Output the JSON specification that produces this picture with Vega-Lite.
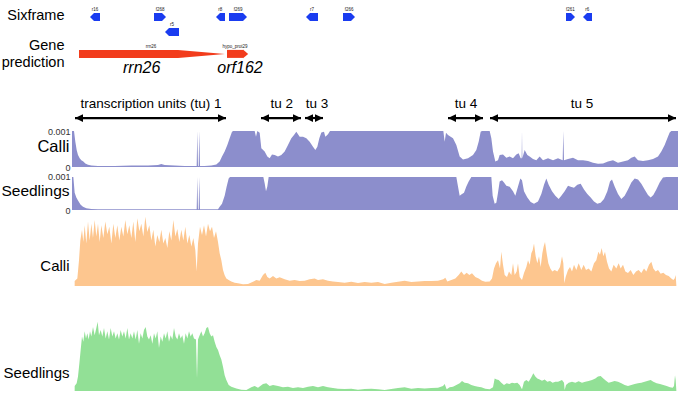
{
"$schema": "https://vega.github.io/schema/vega-lite/v6.json",
"background": "white",
"padding": {"left": 0, "top": 2, "right": 5, "bottom": 5},
"spacing": 0,
"bounds": "flush",
"config": {
  "view": {"stroke": null},
  "font": "Liberation Sans",
  "axis": {"domain": false, "ticks": false, "tickSize": 0, "grid": false, "labels": false, "titleAngle": 0, "titleAlign": "right", "titleBaseline": "middle", "titleFontWeight": "normal", "titleColor": "black", "titleFontSize": 14.5, "titlePadding": 0}
},
"datasets": {
  "six": [
    {"name": "r16", "frame": 1, "start": 288, "end": 306, "strand": "-", "mid": 291},
    {"name": "f268", "frame": 1, "start": 468, "end": 492, "strand": "+", "mid": 486},
    {"name": "r5", "frame": 2, "start": 513, "end": 543, "strand": "-", "mid": 522},
    {"name": "r8", "frame": 1, "start": 666, "end": 681, "strand": "-", "mid": 667},
    {"name": "f269", "frame": 1, "start": 693, "end": 735, "strand": "+", "mid": 720},
    {"name": "r7", "frame": 1, "start": 936, "end": 960, "strand": "-", "mid": 942},
    {"name": "f266", "frame": 1, "start": 1035, "end": 1059, "strand": "+", "mid": 1053},
    {"name": "f261", "frame": 1, "start": 1704, "end": 1719, "strand": "+", "mid": 1717},
    {"name": "r6", "frame": 1, "start": 1767, "end": 1782, "strand": "-", "mid": 1768}
  ],
  "genes": [
    {"name": "rrn26", "tag": "rrn26", "start": 243, "end": 540, "mid": 459},
    {"name": "orf162", "tag": "hypo_prot29", "start": 687, "end": 735, "mid": 711}
  ],
  "geneLabels": [
    {"label": "rrn26", "p": 431},
    {"label": "orf162", "p": 726}
  ],
  "tu": [
    {"label": "transcription units (tu) 1", "start": 231, "end": 684, "mid": 459},
    {"label": "tu 2", "start": 789, "end": 909, "mid": 851},
    {"label": "tu 3", "start": 921, "end": 975, "mid": 957},
    {"label": "tu 4", "start": 1350, "end": 1455, "mid": 1404},
    {"label": "tu 5", "start": 1476, "end": 2034, "mid": 1752}
  ],
  "cn": [
    {"p":222,"v":0.001},{"p":228,"v":0.001},{"p":232,"v":0.0007},{"p":236,"v":0.00047},{"p":240,"v":0.00033},{"p":245,"v":0.00024},{"p":250,"v":0.00019},{"p":256,"v":0.00015},{"p":262,"v":0.0001},{"p":270,"v":0.000065},{"p":280,"v":0.00004},{"p":300,"v":0.00003},{"p":350,"v":0.00003},{"p":400,"v":0.00004},{"p":450,"v":0.00004},{"p":480,"v":0.000055},{"p":490,"v":0.00008},{"p":500,"v":0.000055},{"p":530,"v":0.00004},{"p":560,"v":0.00003},{"p":596,"v":0.00003},{"p":598,"v":0.001},{"p":600,"v":0.00003},{"p":602,"v":0.00003},{"p":604,"v":0.001},{"p":606,"v":0.00003},{"p":620,"v":0.00003},{"p":640,"v":0.00004},{"p":655,"v":0.00007},{"p":665,"v":0.00015},{"p":672,"v":0.00029},{"p":680,"v":0.00043},{"p":688,"v":0.00061},{"p":695,"v":0.0008},{"p":702,"v":0.00098},{"p":706,"v":0.001},{"p":770,"v":0.001},{"p":774,"v":0.00084},{"p":778,"v":0.001},{"p":785,"v":0.00095},{"p":790,"v":0.00052},{"p":800,"v":0.00043},{"p":808,"v":0.00029},{"p":815,"v":0.00024},{"p":822,"v":0.00035},{"p":830,"v":0.00033},{"p":840,"v":0.00029},{"p":850,"v":0.00033},{"p":860,"v":0.00043},{"p":870,"v":0.00061},{"p":880,"v":0.0008},{"p":888,"v":0.00089},{"p":895,"v":0.00098},{"p":905,"v":0.00084},{"p":915,"v":0.00084},{"p":925,"v":0.0008},{"p":935,"v":0.0007},{"p":945,"v":0.00056},{"p":952,"v":0.00047},{"p":958,"v":0.00056},{"p":964,"v":0.0008},{"p":970,"v":0.00096},{"p":978,"v":0.00098},{"p":982,"v":0.00084},{"p":990,"v":0.00091},{"p":996,"v":0.001},{"p":1336,"v":0.001},{"p":1340,"v":0.0007},{"p":1344,"v":0.00095},{"p":1350,"v":0.00089},{"p":1358,"v":0.00084},{"p":1365,"v":0.0008},{"p":1375,"v":0.00061},{"p":1385,"v":0.00029},{"p":1395,"v":0.00021},{"p":1410,"v":0.00024},{"p":1425,"v":0.00033},{"p":1435,"v":0.00047},{"p":1442,"v":0.0007},{"p":1448,"v":0.00098},{"p":1452,"v":0.001},{"p":1475,"v":0.001},{"p":1480,"v":0.0008},{"p":1485,"v":0.00043},{"p":1492,"v":0.00015},{"p":1500,"v":0.00019},{"p":1505,"v":0.00033},{"p":1515,"v":0.00035},{"p":1525,"v":0.00026},{"p":1535,"v":0.00029},{"p":1545,"v":0.00024},{"p":1555,"v":0.00035},{"p":1562,"v":0.00038},{"p":1568,"v":0.00024},{"p":1571,"v":0.00024},{"p":1572,"v":0.001},{"p":1573,"v":0.00024},{"p":1580,"v":0.00047},{"p":1588,"v":0.00033},{"p":1595,"v":0.00029},{"p":1605,"v":0.00022},{"p":1615,"v":0.00019},{"p":1625,"v":0.00029},{"p":1635,"v":0.00019},{"p":1650,"v":0.00024},{"p":1665,"v":0.000185},{"p":1680,"v":0.00024},{"p":1694,"v":0.00019},{"p":1696,"v":0.001},{"p":1698,"v":0.00019},{"p":1710,"v":0.00022},{"p":1725,"v":0.00026},{"p":1740,"v":0.00019},{"p":1755,"v":0.00019},{"p":1770,"v":0.00017},{"p":1785,"v":0.00012},{"p":1800,"v":0.00009},{"p":1815,"v":0.0001},{"p":1830,"v":0.00015},{"p":1845,"v":0.000185},{"p":1860,"v":0.00012},{"p":1875,"v":0.00015},{"p":1890,"v":0.000185},{"p":1900,"v":0.00026},{"p":1910,"v":0.00029},{"p":1920,"v":0.00019},{"p":1935,"v":0.00017},{"p":1950,"v":0.00019},{"p":1965,"v":0.00022},{"p":1980,"v":0.00029},{"p":1990,"v":0.00043},{"p":2000,"v":0.00061},{"p":2008,"v":0.0008},{"p":2015,"v":0.00096},{"p":2020,"v":0.001},{"p":2040,"v":0.001}
  ],
  "sn": [
    {"p":222,"v":0.001},{"p":226,"v":0.001},{"p":230,"v":0.00052},{"p":235,"v":0.00038},{"p":240,"v":0.00029},{"p":248,"v":0.00016},{"p":255,"v":0.000095},{"p":265,"v":0.00005},{"p":280,"v":0.00003},{"p":300,"v":0.00002},{"p":596,"v":0.00002},{"p":598,"v":0.001},{"p":600,"v":0.00002},{"p":602,"v":0.00002},{"p":604,"v":0.001},{"p":606,"v":0.00002},{"p":660,"v":0.00002},{"p":665,"v":0.000095},{"p":672,"v":0.00019},{"p":680,"v":0.00043},{"p":686,"v":0.00071},{"p":692,"v":0.00095},{"p":696,"v":0.001},{"p":796,"v":0.001},{"p":800,"v":0.00081},{"p":804,"v":0.00057},{"p":808,"v":0.00071},{"p":812,"v":0.001},{"p":1375,"v":0.001},{"p":1380,"v":0.00071},{"p":1385,"v":0.00043},{"p":1392,"v":0.00048},{"p":1398,"v":0.00052},{"p":1405,"v":0.00071},{"p":1412,"v":0.00086},{"p":1420,"v":0.001},{"p":1480,"v":0.001},{"p":1484,"v":0.00043},{"p":1490,"v":0.00019},{"p":1495,"v":0.00022},{"p":1500,"v":0.00052},{"p":1505,"v":0.00086},{"p":1512,"v":0.0009},{"p":1518,"v":0.00083},{"p":1525,"v":0.00073},{"p":1535,"v":0.0007},{"p":1545,"v":0.00057},{"p":1552,"v":0.00043},{"p":1560,"v":0.00071},{"p":1567,"v":0.00095},{"p":1572,"v":0.0009},{"p":1578,"v":0.00057},{"p":1588,"v":0.00038},{"p":1598,"v":0.00024},{"p":1608,"v":0.00019},{"p":1620,"v":0.00026},{"p":1630,"v":0.00048},{"p":1638,"v":0.00076},{"p":1645,"v":0.00095},{"p":1652,"v":0.00076},{"p":1662,"v":0.00057},{"p":1672,"v":0.00043},{"p":1682,"v":0.00033},{"p":1690,"v":0.00043},{"p":1700,"v":0.00057},{"p":1710,"v":0.00073},{"p":1718,"v":0.0007},{"p":1728,"v":0.00067},{"p":1738,"v":0.00076},{"p":1748,"v":0.00079},{"p":1758,"v":0.00062},{"p":1768,"v":0.00048},{"p":1778,"v":0.00038},{"p":1788,"v":0.00026},{"p":1798,"v":0.00019},{"p":1808,"v":0.00022},{"p":1818,"v":0.00033},{"p":1828,"v":0.00057},{"p":1836,"v":0.00086},{"p":1842,"v":0.00092},{"p":1850,"v":0.00071},{"p":1860,"v":0.00048},{"p":1870,"v":0.00033},{"p":1880,"v":0.00043},{"p":1890,"v":0.00062},{"p":1900,"v":0.00083},{"p":1910,"v":0.00095},{"p":1920,"v":0.00092},{"p":1930,"v":0.00079},{"p":1940,"v":0.00062},{"p":1950,"v":0.00045},{"p":1958,"v":0.00038},{"p":1966,"v":0.00045},{"p":1975,"v":0.00062},{"p":1985,"v":0.00083},{"p":1995,"v":0.00098},{"p":2005,"v":0.001},{"p":2040,"v":0.001}
  ],
  "co": [
    {"p":230,"v":6.6},{"p":238,"v":10},{"p":243,"v":34},{"p":247,"v":60},{"p":252,"v":74},{"p":256,"v":58},{"p":260,"v":80},{"p":265,"v":56},{"p":270,"v":85},{"p":275,"v":60},{"p":280,"v":82},{"p":285,"v":63},{"p":290,"v":87},{"p":295,"v":65},{"p":300,"v":82},{"p":305,"v":58},{"p":310,"v":80},{"p":316,"v":63},{"p":322,"v":85},{"p":328,"v":68},{"p":334,"v":78},{"p":340,"v":56},{"p":346,"v":82},{"p":352,"v":63},{"p":358,"v":80},{"p":364,"v":60},{"p":370,"v":78},{"p":376,"v":65},{"p":382,"v":87},{"p":388,"v":68},{"p":394,"v":80},{"p":400,"v":63},{"p":406,"v":85},{"p":412,"v":58},{"p":418,"v":89},{"p":424,"v":72},{"p":430,"v":82},{"p":436,"v":65},{"p":442,"v":91},{"p":448,"v":71},{"p":454,"v":80},{"p":460,"v":60},{"p":466,"v":74},{"p":472,"v":52},{"p":478,"v":67},{"p":484,"v":58},{"p":490,"v":74},{"p":496,"v":56},{"p":502,"v":63},{"p":508,"v":50},{"p":514,"v":72},{"p":520,"v":60},{"p":526,"v":87},{"p":532,"v":65},{"p":538,"v":75},{"p":544,"v":58},{"p":550,"v":74},{"p":556,"v":60},{"p":562,"v":78},{"p":568,"v":56},{"p":574,"v":67},{"p":580,"v":52},{"p":586,"v":63},{"p":592,"v":47},{"p":596,"v":19},{"p":600,"v":56},{"p":606,"v":78},{"p":612,"v":67},{"p":618,"v":80},{"p":624,"v":65},{"p":630,"v":82},{"p":636,"v":72},{"p":642,"v":78},{"p":648,"v":63},{"p":654,"v":72},{"p":660,"v":58},{"p":665,"v":43},{"p":670,"v":34},{"p":675,"v":21},{"p":680,"v":14},{"p":685,"v":10},{"p":692,"v":8},{"p":700,"v":6},{"p":710,"v":4.4},{"p":720,"v":3.5},{"p":735,"v":2.2},{"p":750,"v":2.6},{"p":765,"v":5.7},{"p":775,"v":7.9},{"p":785,"v":7},{"p":795,"v":14.5},{"p":802,"v":17.5},{"p":808,"v":12},{"p":815,"v":10},{"p":825,"v":13},{"p":835,"v":10},{"p":845,"v":11.4},{"p":860,"v":8.8},{"p":875,"v":7},{"p":890,"v":7.9},{"p":905,"v":6.6},{"p":920,"v":7},{"p":935,"v":8.8},{"p":950,"v":10},{"p":960,"v":7.9},{"p":975,"v":8.8},{"p":990,"v":7},{"p":1005,"v":6},{"p":1020,"v":5.3},{"p":1040,"v":4.4},{"p":1060,"v":5.7},{"p":1080,"v":4},{"p":1100,"v":5.3},{"p":1120,"v":4.4},{"p":1140,"v":5.3},{"p":1160,"v":2.6},{"p":1180,"v":4.4},{"p":1200,"v":5.7},{"p":1220,"v":7},{"p":1240,"v":5.3},{"p":1260,"v":6},{"p":1280,"v":6.6},{"p":1300,"v":6.6},{"p":1320,"v":7},{"p":1336,"v":8.8},{"p":1342,"v":11},{"p":1348,"v":6},{"p":1360,"v":7.9},{"p":1372,"v":10},{"p":1382,"v":14.5},{"p":1390,"v":19},{"p":1398,"v":14.5},{"p":1406,"v":17.5},{"p":1414,"v":14.5},{"p":1422,"v":16.7},{"p":1432,"v":12},{"p":1442,"v":10},{"p":1452,"v":7},{"p":1462,"v":5.7},{"p":1475,"v":6},{"p":1482,"v":10},{"p":1488,"v":23},{"p":1494,"v":30},{"p":1500,"v":34},{"p":1506,"v":23},{"p":1510,"v":45},{"p":1515,"v":28},{"p":1520,"v":14.5},{"p":1527,"v":12},{"p":1533,"v":19},{"p":1540,"v":14.5},{"p":1545,"v":30},{"p":1550,"v":14.5},{"p":1556,"v":19},{"p":1560,"v":30},{"p":1565,"v":12},{"p":1572,"v":8},{"p":1578,"v":17},{"p":1585,"v":25},{"p":1590,"v":34},{"p":1595,"v":28},{"p":1600,"v":43},{"p":1604,"v":47},{"p":1608,"v":56},{"p":1613,"v":39},{"p":1618,"v":30},{"p":1623,"v":39},{"p":1628,"v":25},{"p":1633,"v":43},{"p":1637,"v":52},{"p":1641,"v":58},{"p":1646,"v":43},{"p":1651,"v":30},{"p":1657,"v":23},{"p":1663,"v":19},{"p":1670,"v":21},{"p":1678,"v":19},{"p":1686,"v":25},{"p":1692,"v":39},{"p":1696,"v":30},{"p":1699,"v":3.5},{"p":1703,"v":12},{"p":1710,"v":21},{"p":1716,"v":25},{"p":1722,"v":19},{"p":1728,"v":28},{"p":1735,"v":21},{"p":1742,"v":30},{"p":1750,"v":21},{"p":1757,"v":28},{"p":1764,"v":21},{"p":1772,"v":23},{"p":1780,"v":19},{"p":1788,"v":30},{"p":1795,"v":34},{"p":1801,"v":45},{"p":1806,"v":41},{"p":1811,"v":50},{"p":1816,"v":39},{"p":1821,"v":45},{"p":1827,"v":32},{"p":1833,"v":23},{"p":1840,"v":19},{"p":1847,"v":28},{"p":1855,"v":23},{"p":1862,"v":30},{"p":1868,"v":23},{"p":1875,"v":28},{"p":1882,"v":19},{"p":1890,"v":17},{"p":1898,"v":21},{"p":1906,"v":14.5},{"p":1914,"v":19},{"p":1922,"v":21},{"p":1930,"v":17},{"p":1938,"v":23},{"p":1945,"v":19},{"p":1953,"v":28},{"p":1960,"v":32},{"p":1966,"v":23},{"p":1973,"v":19},{"p":1980,"v":21},{"p":1988,"v":16},{"p":1996,"v":17.5},{"p":2004,"v":14.5},{"p":2012,"v":13},{"p":2020,"v":10},{"p":2026,"v":8},{"p":2030,"v":10},{"p":2033,"v":14.5},{"p":2035,"v":1.3}
  ],
  "sg": [
    {"p":230,"v":4.8},{"p":236,"v":7.3},{"p":240,"v":13.7},{"p":244,"v":26},{"p":248,"v":39},{"p":252,"v":52},{"p":256,"v":47},{"p":260,"v":57},{"p":264,"v":50},{"p":268,"v":55},{"p":272,"v":49},{"p":276,"v":57},{"p":280,"v":52},{"p":285,"v":61},{"p":290,"v":53},{"p":295,"v":60},{"p":299,"v":66},{"p":303,"v":53},{"p":308,"v":58},{"p":313,"v":52},{"p":318,"v":60},{"p":323,"v":50},{"p":328,"v":57},{"p":333,"v":49},{"p":338,"v":60},{"p":343,"v":52},{"p":348,"v":57},{"p":353,"v":50},{"p":358,"v":55},{"p":363,"v":49},{"p":368,"v":58},{"p":373,"v":52},{"p":378,"v":57},{"p":383,"v":50},{"p":388,"v":60},{"p":393,"v":49},{"p":398,"v":55},{"p":403,"v":50},{"p":408,"v":57},{"p":413,"v":49},{"p":418,"v":58},{"p":423,"v":45},{"p":428,"v":55},{"p":433,"v":50},{"p":438,"v":58},{"p":443,"v":61},{"p":448,"v":52},{"p":453,"v":49},{"p":458,"v":53},{"p":463,"v":45},{"p":468,"v":55},{"p":473,"v":50},{"p":478,"v":57},{"p":483,"v":41},{"p":488,"v":52},{"p":493,"v":47},{"p":498,"v":55},{"p":503,"v":50},{"p":508,"v":57},{"p":513,"v":47},{"p":518,"v":53},{"p":523,"v":49},{"p":528,"v":60},{"p":533,"v":52},{"p":538,"v":49},{"p":543,"v":55},{"p":548,"v":50},{"p":553,"v":53},{"p":558,"v":45},{"p":563,"v":55},{"p":568,"v":50},{"p":573,"v":57},{"p":578,"v":52},{"p":583,"v":55},{"p":588,"v":50},{"p":594,"v":49},{"p":597,"v":12},{"p":600,"v":49},{"p":605,"v":53},{"p":610,"v":57},{"p":615,"v":52},{"p":620,"v":55},{"p":625,"v":60},{"p":630,"v":61},{"p":635,"v":55},{"p":640,"v":52},{"p":645,"v":53},{"p":650,"v":47},{"p":655,"v":42},{"p":660,"v":39},{"p":665,"v":34},{"p":670,"v":30},{"p":675,"v":23},{"p":680,"v":15},{"p":685,"v":10.5},{"p":692,"v":5.7},{"p":700,"v":4.1},{"p":715,"v":2.5},{"p":730,"v":1.3},{"p":745,"v":1},{"p":760,"v":3.5},{"p":770,"v":4.8},{"p":780,"v":3.2},{"p":795,"v":6.7},{"p":805,"v":7.3},{"p":815,"v":4.8},{"p":825,"v":5.7},{"p":840,"v":4.8},{"p":855,"v":3.5},{"p":870,"v":4.1},{"p":885,"v":2.9},{"p":900,"v":3.5},{"p":915,"v":2.9},{"p":930,"v":4.1},{"p":945,"v":4.8},{"p":960,"v":3.5},{"p":975,"v":4.8},{"p":990,"v":3.5},{"p":1005,"v":2.9},{"p":1020,"v":2.2},{"p":1040,"v":1.9},{"p":1060,"v":2.2},{"p":1080,"v":1.3},{"p":1100,"v":1.9},{"p":1120,"v":2.2},{"p":1140,"v":1.6},{"p":1160,"v":1},{"p":1180,"v":1.9},{"p":1200,"v":2.9},{"p":1220,"v":3.5},{"p":1240,"v":2.2},{"p":1260,"v":2.9},{"p":1280,"v":2.5},{"p":1300,"v":2.9},{"p":1320,"v":3.2},{"p":1335,"v":4.8},{"p":1340,"v":6.7},{"p":1346,"v":1.6},{"p":1355,"v":3.5},{"p":1365,"v":4.1},{"p":1375,"v":5.7},{"p":1385,"v":7.3},{"p":1392,"v":9.5},{"p":1400,"v":7.9},{"p":1410,"v":7.3},{"p":1420,"v":5.7},{"p":1430,"v":4.8},{"p":1440,"v":4.1},{"p":1450,"v":3.5},{"p":1462,"v":2.2},{"p":1475,"v":1.6},{"p":1485,"v":3.5},{"p":1490,"v":12},{"p":1496,"v":11},{"p":1502,"v":10.5},{"p":1510,"v":7.9},{"p":1518,"v":5.7},{"p":1526,"v":7.3},{"p":1534,"v":6.7},{"p":1542,"v":7.9},{"p":1550,"v":7.3},{"p":1558,"v":7.9},{"p":1565,"v":5.7},{"p":1572,"v":1.6},{"p":1578,"v":8.9},{"p":1585,"v":10.5},{"p":1592,"v":8.9},{"p":1600,"v":13},{"p":1606,"v":16.8},{"p":1612,"v":13.7},{"p":1618,"v":12},{"p":1625,"v":11},{"p":1632,"v":9.8},{"p":1640,"v":11},{"p":1648,"v":8.9},{"p":1656,"v":9.5},{"p":1664,"v":7.9},{"p":1672,"v":8.9},{"p":1680,"v":8.9},{"p":1692,"v":10.5},{"p":1698,"v":7.9},{"p":1700,"v":1},{"p":1704,"v":5.7},{"p":1712,"v":7.9},{"p":1722,"v":8.9},{"p":1732,"v":7.9},{"p":1742,"v":9.2},{"p":1752,"v":7.9},{"p":1762,"v":8.9},{"p":1772,"v":9.5},{"p":1782,"v":10.5},{"p":1792,"v":12},{"p":1800,"v":13.7},{"p":1808,"v":14.3},{"p":1816,"v":12},{"p":1824,"v":9.8},{"p":1832,"v":7.9},{"p":1840,"v":8.6},{"p":1850,"v":9.5},{"p":1860,"v":8.9},{"p":1870,"v":7.3},{"p":1880,"v":5.7},{"p":1890,"v":4.8},{"p":1900,"v":5.7},{"p":1910,"v":6.7},{"p":1920,"v":7.3},{"p":1930,"v":7.9},{"p":1940,"v":8.9},{"p":1950,"v":9.8},{"p":1958,"v":10.5},{"p":1966,"v":8.9},{"p":1976,"v":7.3},{"p":1986,"v":6.7},{"p":1996,"v":5.7},{"p":2006,"v":4.8},{"p":2016,"v":3.5},{"p":2024,"v":3.2},{"p":2028,"v":4.8},{"p":2031,"v":15},{"p":2033,"v":10.5},{"p":2035,"v":1}
  ]
},
"vconcat": [
  {
    "width": 606, "height": 45,
    "data": {"name": "six"},
    "encoding": {
      "y": {"field": "frame", "type": "quantitative", "scale": {"domain": [0, 3], "reverse": true}, "axis": {"title": "Sixframe", "titleX": -8, "titleY": 13}}
    },
    "layer": [
      {"mark": {"type": "rule", "strokeWidth": 8, "color": "#1a3cf0"},
       "encoding": {"x": {"field": "start", "type": "quantitative", "scale": {"domain": [222, 2040]}, "axis": null}, "x2": {"field": "end"}}},
      {"transform": [{"filter": "datum.strand == '+'"}],
       "mark": {"type": "point", "filled": true, "opacity": 1, "color": "#1a3cf0", "shape": "M1,0L0,-1L0,1Z", "size": 64},
       "encoding": {"x": {"field": "end", "type": "quantitative", "scale": {"domain": [222, 2040]}, "axis": null}}},
      {"transform": [{"filter": "datum.strand == '-'"}],
       "mark": {"type": "point", "filled": true, "opacity": 1, "color": "#1a3cf0", "shape": "M-1,0L0,-1L0,1Z", "size": 64},
       "encoding": {"x": {"field": "start", "type": "quantitative", "scale": {"domain": [222, 2040]}, "axis": null}}},
      {"mark": {"type": "text", "fontSize": 4.5, "dy": -7, "color": "#222"},
       "encoding": {"x": {"field": "mid", "type": "quantitative", "scale": {"domain": [222, 2040]}, "axis": null}, "text": {"field": "name"}}}
    ]
  },
  {
    "width": 606, "height": 30,
    "layer": [
      {"data": {"name": "genes"},
       "mark": {"type": "rule", "strokeWidth": 8, "color": "#f23c1c"},
       "encoding": {"x": {"field": "start", "type": "quantitative", "scale": {"domain": [222, 2040]}, "axis": null}, "x2": {"field": "end"},
                    "y": {"datum": 0.23, "type": "quantitative", "scale": {"domain": [0, 1], "reverse": true}, "axis": {"title": ["Gene", "prediction"], "titleX": -8, "titleY": 2, "titleBaseline": "alphabetic", "titleLineHeight": 17}}}},
      {"data": {"name": "genes"},
       "mark": {"type": "point", "filled": true, "opacity": 1, "color": "#f23c1c", "size": 8836},
       "encoding": {"x": {"field": "end", "type": "quantitative", "scale": {"domain": [222, 2040]}, "axis": null},
                    "y": {"datum": 0.23, "type": "quantitative"},
                    "shape": {"field": "name", "type": "nominal", "scale": {"domain": ["rrn26", "orf162"], "range": ["M1,0L0,-0.085L0,0.085Z", "M0.11,0L0,-0.095L0,0.095Z"]}, "legend": null}}},
      {"data": {"name": "genes"},
       "mark": {"type": "text", "fontSize": 4.5, "dy": -7, "color": "#222"},
       "encoding": {"x": {"field": "mid", "type": "quantitative", "scale": {"domain": [222, 2040]}, "axis": null},
                    "y": {"datum": 0.23, "type": "quantitative"}, "text": {"field": "tag"}}},
      {"data": {"name": "geneLabels"},
       "mark": {"type": "text", "fontSize": 16, "fontStyle": "italic", "color": "black"},
       "encoding": {"x": {"field": "p", "type": "quantitative", "scale": {"domain": [222, 2040]}, "axis": null},
                    "y": {"datum": 0.7, "type": "quantitative"}, "text": {"field": "label"}}}
    ]
  },
  {
    "width": 606, "height": 54,
    "data": {"name": "tu"},
    "layer": [
      {"mark": {"type": "rule", "strokeWidth": 2.2, "color": "black"},
       "encoding": {"x": {"field": "start", "type": "quantitative", "scale": {"domain": [222, 2040]}, "axis": null}, "x2": {"field": "end"},
                    "y": {"datum": 0.76, "type": "quantitative", "scale": {"domain": [0, 1], "reverse": true}, "axis": null}}},
      {"mark": {"type": "point", "filled": true, "opacity": 1, "color": "black", "shape": "M0,0L1,-0.48L1,0.48Z", "size": 256},
       "encoding": {"x": {"field": "start", "type": "quantitative", "scale": {"domain": [222, 2040]}, "axis": null}, "y": {"datum": 0.76, "type": "quantitative"}}},
      {"mark": {"type": "point", "filled": true, "opacity": 1, "color": "black", "shape": "M0,0L-1,-0.48L-1,0.48Z", "size": 256},
       "encoding": {"x": {"field": "end", "type": "quantitative", "scale": {"domain": [222, 2040]}, "axis": null}, "y": {"datum": 0.76, "type": "quantitative"}}},
      {"mark": {"type": "text", "fontSize": 13.5, "color": "black"},
       "encoding": {"x": {"field": "mid", "type": "quantitative", "scale": {"domain": [222, 2040]}, "axis": null}, "y": {"datum": 0.5, "type": "quantitative"}, "text": {"field": "label"}}}
    ]
  },
  {
    "width": 606, "height": 36,
    "layer": [
      {"mark": {"type": "rule", "color": "#cfcfcf", "strokeDash": [9, 7], "strokeWidth": 2.5},
       "encoding": {"y": {"datum": 0.001, "type": "quantitative", "scale": {"domain": [0, 0.001]}, "axis": {"title": "Calli", "values": [0, 0.001], "format": "~g", "labels": true, "labelFontSize": 9, "labelColor": "#333", "labelPadding": 2, "titleX": -3, "titleY": 15, "titleFontSize": 16.5}}}},
      {"data": {"name": "cn"},
       "mark": {"type": "area", "color": "#8c8ecc", "opacity": 1},
       "encoding": {"x": {"field": "p", "type": "quantitative", "scale": {"domain": [222, 2040]}, "axis": null}, "y": {"field": "v", "type": "quantitative"}}}
    ]
  },
  {
    "width": 606, "height": 43,
    "layer": [
      {"mark": {"type": "rule", "color": "#cfcfcf", "strokeDash": [9, 7], "strokeWidth": 2.5},
       "encoding": {"y": {"datum": 0.001, "type": "quantitative", "scale": {"domain": [0, 0.00123]}, "axis": {"title": "Seedlings", "values": [0, 0.001], "format": "~g", "labels": true, "labelFontSize": 9, "labelColor": "#333", "labelPadding": 2, "titleX": -3, "titleY": 23, "titleFontSize": 15.5}}}},
      {"data": {"name": "sn"},
       "mark": {"type": "area", "color": "#8c8ecc", "opacity": 1},
       "encoding": {"x": {"field": "p", "type": "quantitative", "scale": {"domain": [222, 2040]}, "axis": null}, "y": {"field": "v", "type": "quantitative"}}}
    ]
  },
  {
    "width": 606, "height": 76,
    "data": {"name": "co"},
    "mark": {"type": "area", "color": "#fdc68f", "opacity": 1},
    "encoding": {"x": {"field": "p", "type": "quantitative", "scale": {"domain": [222, 2040]}, "axis": null},
                 "y": {"field": "v", "type": "quantitative", "scale": {"domain": [0, 100]}, "axis": {"title": "Calli", "titleX": -3, "titleY": 55, "titleFontSize": 15}}}
  },
  {
    "width": 606, "height": 105,
    "data": {"name": "sg"},
    "mark": {"type": "area", "color": "#92e096", "opacity": 1},
    "encoding": {"x": {"field": "p", "type": "quantitative", "scale": {"domain": [222, 2040]}, "axis": null},
                 "y": {"field": "v", "type": "quantitative", "scale": {"domain": [0, 100]}, "axis": {"title": "Seedlings", "titleX": -3, "titleY": 86, "titleFontSize": 15}}}
  }
]
}
